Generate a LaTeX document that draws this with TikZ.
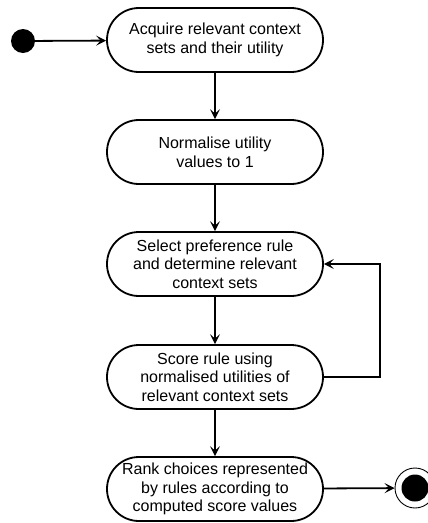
\documentclass[tikz,border=0pt]{standalone}
\usepackage{fontspec}
\setmainfont{Liberation Sans}
\usetikzlibrary{arrows.meta}
\begin{document}
\begin{tikzpicture}[x=1pt,y=-1pt,
  activity/.style={draw, line width=1.8pt, rounded corners=31.9pt,
    minimum width=216pt, minimum height=64pt, inner sep=0pt,
    align=center, font=\fontsize{16}{18.7}\selectfont},
  flow/.style={line width=1.8pt, -{Stealth[length=10pt,width=10pt,inset=4.5pt]}},
  startdot/.style={circle, fill=black, minimum size=24pt, inner sep=0pt},
  enddot/.style={circle, fill=black, minimum size=27pt, inner sep=0pt},
  endring/.style={circle, draw, line width=0.9pt, minimum size=40pt, inner sep=0pt}]
\useasboundingbox (0,0) rectangle (428,523);

\node[startdot] (start) at (23,41) {};
\node[activity] (acq) at (215,40) {Acquire relevant context\\sets and their utility};
\node[activity] (norm) at (215,152) {Normalise utility\\values to 1};
\node[activity] (sel) at (215,264) {Select preference rule\\and determine relevant\\context sets};
\node[activity] (score) at (215,377) {Score rule using\\normalised utilities of\\relevant context sets};
\node[activity] (rank) at (215,489) {Rank choices represented\\by rules according to\\computed score values};
\node[endring] (finish) at (415,488) {};
\node[enddot] at (finish.center) {};
\coordinate (loopbot) at (380,377);
\coordinate (looptop) at (380,264);

\draw[flow] (start) -- (acq);
\draw[flow] (acq) -- (norm);
\draw[flow] (norm) -- (sel);
\draw[flow] (sel) -- (score);
\draw[flow] (score) -- (rank);
\draw[flow] (rank) -- (finish);
\draw[flow] (score.east) -- (loopbot) -- (looptop) -- (sel.east);
\end{tikzpicture}
\end{document}
